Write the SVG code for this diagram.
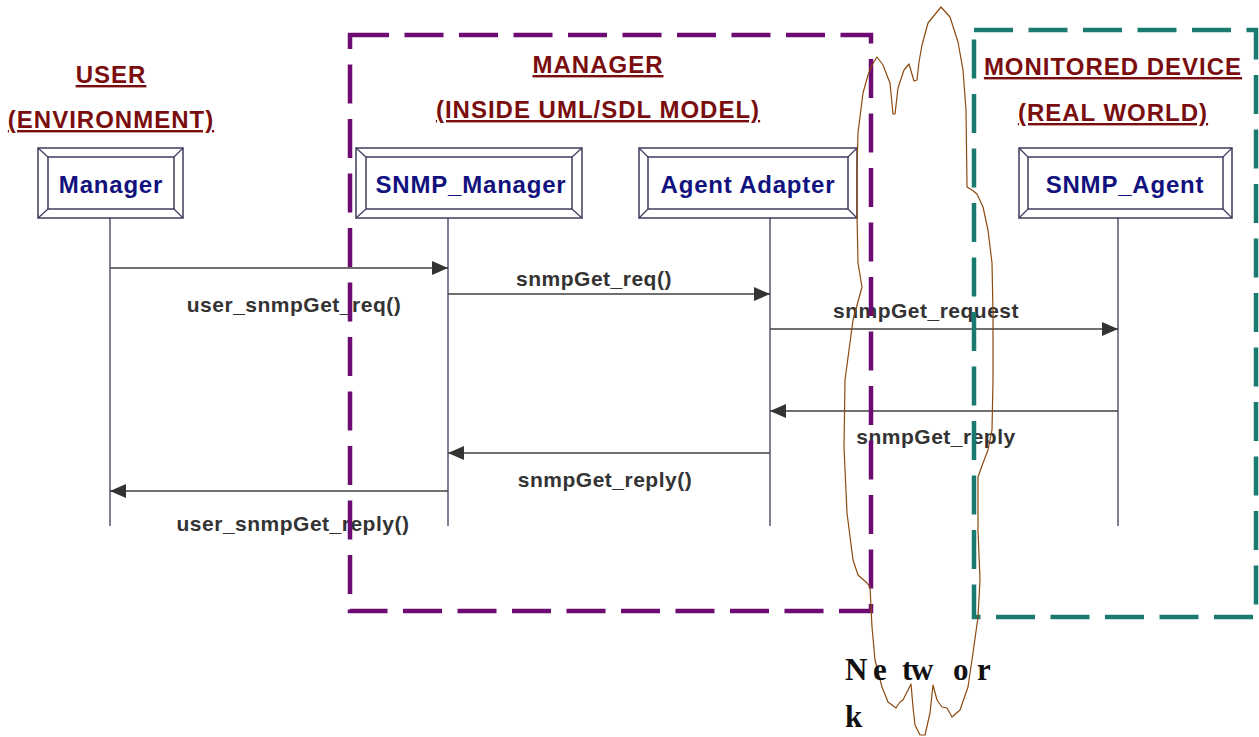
<svg xmlns="http://www.w3.org/2000/svg" width="1259" height="737" viewBox="0 0 1259 737">
<defs>
<style>
.title{font-family:"Liberation Sans",Arial,sans-serif;font-weight:bold;font-size:24px;fill:#7a0e0e;text-anchor:middle;text-decoration:underline;letter-spacing:1px}
.box{fill:#fff;stroke:#3c3c5c;stroke-width:1.5}
.bev{stroke:#3c3c5c;stroke-width:1.2}
.nlabel{font-family:"Liberation Sans",Arial,sans-serif;font-weight:bold;font-size:24px;fill:#12127e;text-anchor:middle;letter-spacing:0.8px}
.life{stroke:#3c3c5c;stroke-width:1.3;fill:none}
.msg{stroke:#404040;stroke-width:1.3;fill:none;marker-end:url(#ah)}
.mlabel{font-family:"Liberation Sans",Arial,sans-serif;font-weight:bold;font-size:21px;fill:#333;text-anchor:middle;letter-spacing:0.5px}
.frame{fill:none;stroke-width:4.5;stroke-dasharray:39 15.5}
.cloud{fill:none;stroke:#8a4a10;stroke-width:1.2;stroke-linejoin:round}
.net{font-family:"Liberation Serif","Times New Roman",serif;font-weight:bold;font-size:31px;fill:#111}
</style>
<marker id="ah" markerWidth="16" markerHeight="14" refX="16" refY="7" orient="auto" markerUnits="userSpaceOnUse">
<path d="M0,0 L16,7 L0,14 Z" fill="#333"/>
</marker>
</defs>
<rect width="1259" height="737" fill="#fff"/>

<g id="title-user">
<text class="title" x="111" y="83">USER</text>
<text class="title" x="111" y="128">(ENVIRONMENT)</text>
</g>
<g id="title-manager">
<text class="title" x="598" y="73">MANAGER</text>
<text class="title" x="598" y="118">(INSIDE UML/SDL MODEL)</text>
</g>
<g id="title-device">
<text class="title" x="1113" y="75">MONITORED DEVICE</text>
<text class="title" x="1113" y="121">(REAL WORLD)</text>
</g>

<g id="node-manager">
<line class="life" x1="110" y1="218" x2="110" y2="526"/>
<rect class="box" x="38" y="148" width="145" height="70"/>
<rect class="box" x="48" y="157" width="126" height="52"/>
<path class="bev" d="M38,148 L48,157 M183,148 L174,157 M38,218 L48,209 M183,218 L174,209"/>
<text class="nlabel" x="111" y="193">Manager</text>
</g>
<g id="node-snmp-manager">
<line class="life" x1="448" y1="218" x2="448" y2="526"/>
<rect class="box" x="356" y="148" width="226" height="70"/>
<rect class="box" x="366" y="157" width="206" height="52"/>
<path class="bev" d="M356,148 L366,157 M582,148 L572,157 M356,218 L366,209 M582,218 L572,209"/>
<text class="nlabel" x="471" y="193">SNMP_Manager</text>
</g>
<g id="node-agent-adapter">
<line class="life" x1="770" y1="218" x2="770" y2="526"/>
<rect class="box" x="639" y="148" width="218" height="70"/>
<rect class="box" x="648" y="157" width="200" height="52"/>
<path class="bev" d="M639,148 L648,157 M857,148 L848,157 M639,218 L648,209 M857,218 L848,209"/>
<text class="nlabel" x="748" y="193">Agent Adapter</text>
</g>
<g id="node-snmp-agent">
<line class="life" x1="1118" y1="218" x2="1118" y2="526"/>
<rect class="box" x="1019" y="148" width="213" height="70"/>
<rect class="box" x="1028" y="157" width="195" height="52"/>
<path class="bev" d="M1019,148 L1028,157 M1232,148 L1223,157 M1019,218 L1028,209 M1232,218 L1223,209"/>
<text class="nlabel" x="1125" y="193">SNMP_Agent</text>
</g>

<g id="connectors">
<line class="msg" x1="110" y1="268" x2="448" y2="268"/>
<text class="mlabel" x="294" y="312">user_snmpGet_req()</text>
<line class="msg" x1="448" y1="294" x2="770" y2="294"/>
<text class="mlabel" x="594" y="286">snmpGet_req()</text>
<line class="msg" x1="770" y1="329" x2="1118" y2="329"/>
<text class="mlabel" x="926" y="318">snmpGet_request</text>
<line class="msg" x1="1118" y1="411" x2="770" y2="411"/>
<text class="mlabel" x="936" y="444">snmpGet_reply</text>
<line class="msg" x1="770" y1="453" x2="448" y2="453"/>
<text class="mlabel" x="605" y="487">snmpGet_reply()</text>
<line class="msg" x1="448" y1="491" x2="110" y2="491"/>
<text class="mlabel" x="293" y="531">user_snmpGet_reply()</text>
</g>

<g id="frame-manager">
<rect class="frame" x="350" y="35" width="521" height="576" stroke="#6e0b72"/>
</g>
<g id="frame-device">
<rect class="frame" x="974" y="30" width="282" height="587" stroke="#1b7a70"/>
</g>

<g id="network">
<path class="cloud" d="M941,7 L950,17 L958,42 L963,70 L966,110 L967,187 L972,190 L977,194 L983,207 L988,230 L992,263 L993,313 L993,380 L992,430 L988,450 L983,463 L978,477 L978,530 L980,580 L978,617 L973,653 L968,687 L960,710 L952,717 L947,708 L942,707 L937,700 L933,685 L930,713 L925,735 L920,735 L915,725 L913,707 L911,684 L903,700 L900,702 L896,708 L888,702 L882,687 L875,660 L872,627 L870,587 L867,583 L858,575 L853,560 L847,513 L844,447 L845,380 L853,320 L862,287 L858,263 L857,213 L857,170 L858,133 L863,93 L868,75 L872,65 L877,57 L883,65 L888,78 L890,83 L893,114 L895,114 L898,88 L904,70 L909,64 L914,81 L917,80 L919,62 L922,45 L928,23 Z"/>
<text class="net" y="680"><tspan x="845">N</tspan><tspan x="873">e</tspan><tspan x="902">t</tspan><tspan x="911">w</tspan><tspan x="953">o</tspan><tspan x="977">r</tspan></text>
<text class="net" x="845" y="727">k</text>
</g>
</svg>
